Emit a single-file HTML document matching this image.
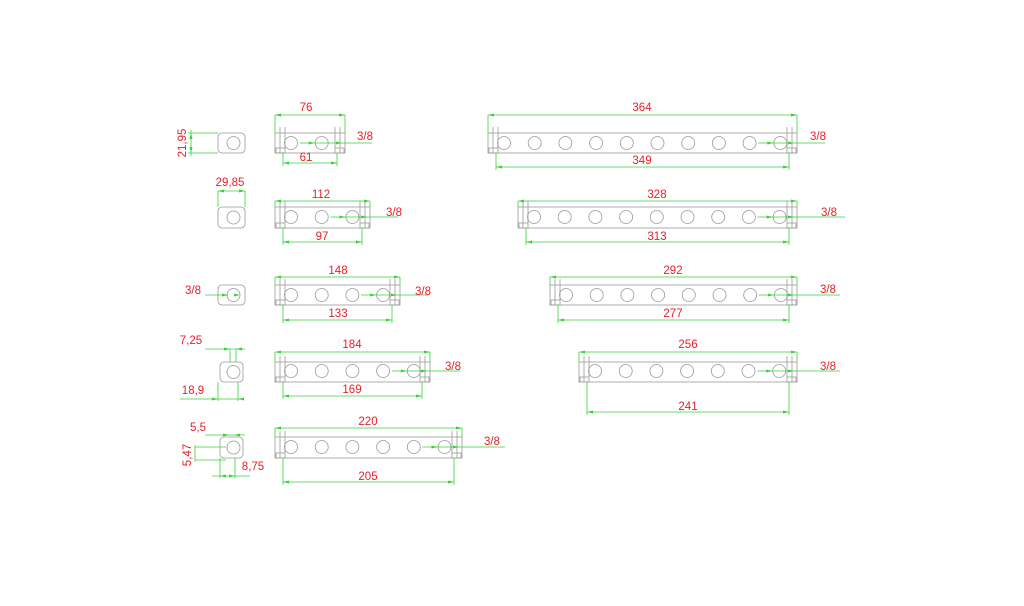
<!DOCTYPE html>
<html><head><meta charset="utf-8"><style>
html,body{margin:0;padding:0;background:#fff;}
svg{display:block}
text{font-family:"Liberation Sans",sans-serif;fill:#e8202a;font-size:11.5px;text-anchor:middle}
</style></head><body>
<svg id="s" width="1024" height="606" viewBox="0 0 1024 606" xmlns="http://www.w3.org/2000/svg">
<g id="g" fill="none" stroke-width="0.8"></g>
<g id="t">
<text x="306" y="111">76</text><text x="306" y="161">61</text><text x="365" y="140">3/8</text>
<text x="321" y="198">112</text><text x="322" y="240">97</text><text x="394" y="216">3/8</text>
<text x="338" y="274">148</text><text x="338" y="317">133</text><text x="423" y="295">3/8</text>
<text x="352" y="348">184</text><text x="352" y="393">169</text><text x="453" y="370">3/8</text>
<text x="368" y="425">220</text><text x="368" y="480">205</text><text x="492" y="445">3/8</text>
<text x="642" y="111">364</text><text x="642" y="164">349</text><text x="818" y="140">3/8</text>
<text x="657" y="198">328</text><text x="657" y="240">313</text><text x="829" y="216">3/8</text>
<text x="673" y="274">292</text><text x="673" y="317">277</text><text x="828" y="293">3/8</text>
<text x="688" y="348">256</text><text x="688" y="410">241</text><text x="828" y="370">3/8</text>
<text x="0" y="0" transform="translate(186,143) rotate(-90)">21,95</text>
<text x="230" y="186">29,85</text>
<text x="193" y="294">3/8</text>
<text x="191" y="344">7,25</text>
<text x="193" y="394">18,9</text>
<text x="198" y="431">5,5</text>
<text x="0" y="0" transform="translate(191,455) rotate(-90)">5,47</text>
<text x="253" y="470">8,75</text>
</g>
</svg>
<script>
var g=document.getElementById('g'),NS='http://www.w3.org/2000/svg';
function el(n,a){var e=document.createElementNS(NS,n);for(var k in a)e.setAttribute(k,a[k]);g.appendChild(e);return e;}
function L(x1,y1,x2,y2,c){el('line',{x1:x1,y1:y1,x2:x2,y2:y2,stroke:c});}
var GR='#999',GN='#3ad23a';
function arrow(x,y,d){el('polygon',{points:x+','+y+' '+(x+d*6)+','+(y-1.5)+' '+(x+d*6)+','+(y+1.5),fill:GN,stroke:'none'});}
function dim(x1,x2,y){L(x1,y,x2,y,GN);arrow(x1,y,1);arrow(x2,y,-1);}
function bar(x1,x2,y1,y2,n,hy,h0,tdy,bdy,lx2){
 el('rect',{x:x1,y:y1,width:x2-x1,height:y2-y1,stroke:GR});
 L(x1+5,y1-6,x1+5,y2,GR);L(x1+10,y1-6,x1+10,y2-5,GR);
 L(x2-5,y1-6,x2-5,y2,GR);L(x2-10,y1-6,x2-10,y2-5,GR);
 el('rect',{x:x1+1,y:y2-5,width:9,height:5,stroke:GR});
 el('rect',{x:x2-10,y:y2-5,width:9,height:5,stroke:GR});
 var step=30.7;
 for(var i=0;i<n;i++){el('circle',{cx:h0+i*step,cy:hy,r:6.5,stroke:GR});}
 dim(x1,x2,tdy);L(x1,tdy,x1,y1,GN);L(x2,tdy,x2,y1,GN);
 dim(x1+8,x2-8,bdy);L(x1+8,y2,x1+8,bdy+3,GN);L(x2-8,y2,x2-8,bdy+3,GN);
 var lx=h0+(n-1)*step;L(lx-22,hy,lx2,hy,GN);arrow(lx-7,hy,-1);arrow(x2-3,hy,-1);
}
bar(275,345,133,153,2,143,291,115,163,372);
bar(275,370,207,228,3,217,291,201,242,398);
bar(275,400,285,305,4,295,291,277,320,428);
bar(275,430,362,382,5,371,291,352,396,460);
bar(275,462,437,458,6,447,291,428,482,505);
bar(488,797,133,153,10,143,504,115,167,825);
bar(518,797,207,228,9,217,534,201,242,845);
bar(550,797,285,305,8,295,566,277,320,840);
bar(579,797,362,382,7,371,595,352,412,840);
function small(x1,x2,y1,y2){el('rect',{x:x1,y:y1,width:x2-x1,height:y2-y1,rx:4,stroke:GR});el('circle',{cx:(x1+x2)/2+2,cy:(y1+y2)/2,r:6.5,stroke:GR});}
small(218,245,133,153);L(191,130,191,156,GN);el('polygon',{points:'191,133 189.5,139 192.5,139',fill:GN});el('polygon',{points:'191,153 189.5,147 192.5,147',fill:GN});L(188,133,218,133,GN);L(188,153,218,153,GN);
small(218,245,207,228);dim(218,245,191);L(218,191,218,207,GN);L(245,191,245,207,GN);
small(218,245,285,305);L(205,295,228,295,GN);arrow(228,295,-1);arrow(240,295,-1);
small(220,243,362,382);L(205,349,245,349,GN);arrow(230,349,-1);arrow(236,349,1);L(230,349,230,362,GN);L(236,349,236,362,GN);
L(180,399,242,399,GN);arrow(218,399,-1);arrow(238,399,1);L(218,382,218,401,GN);L(238,382,238,401,GN);
small(220,243,437,458);L(205,435,245,435,GN);arrow(229,435,-1);arrow(234,435,1);
L(195,447,226,447,GN);L(195,460,226,460,GN);L(195,445,195,462,GN);
L(212,476,250,476,GN);arrow(220,476,1);arrow(235,476,-1);L(220,458,220,478,GN);L(235,458,235,478,GN);
</script>
</body></html>
